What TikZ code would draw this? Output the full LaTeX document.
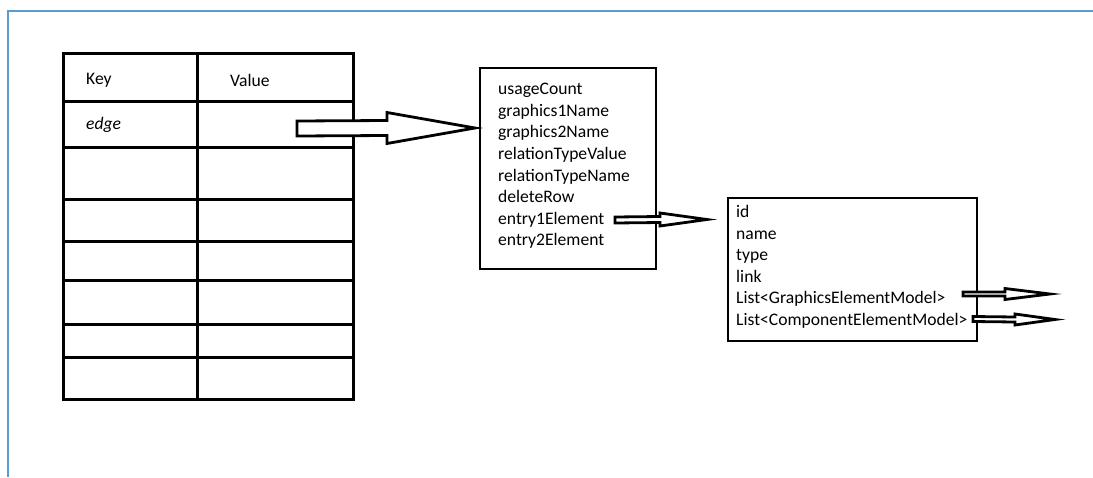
\documentclass[tikz,border=0pt]{standalone}
\usepackage{fontspec}
\setmainfont{Carlito}
\usetikzlibrary{calc}
\definecolor{frameblue}{RGB}{91,155,213}
\tikzset{
  cell/.style={draw, line width=3pt, minimum width=#1, inner sep=0pt, outer sep=0pt, anchor=north west},
  boxed/.style={draw, line width=2.8pt, inner sep=0pt, outer sep=0pt, anchor=north west},
  lbl/.style={anchor=west, inner sep=0pt, font=\fontsize{17.6}{21.5}\selectfont},
  fields/.style={anchor=north west, inner sep=0pt, align=left, font=\fontsize{17.6}{21.6}\selectfont},
  arr/.style={draw, line width=2.8pt, fill=white, line join=miter}
}
% block arrow: start, tip, shaft half height, head half height, head length
\newcommand\blockarr[5]{%
  \draw[arr] ($(#1)+(0,-#3)$) -- ($(#2)+(-#5,-#3)$) -- ($(#2)+(-#5,-#4)$) -- (#2)
    -- ($(#2)+(-#5,#4)$) -- ($(#2)+(-#5,#3)$) -- ($(#1)+(0,#3)$) -- cycle;}
\begin{document}
\begin{tikzpicture}[x=1pt,y=-1pt]
\useasboundingbox (0,0) rectangle (1093,477);
% page frame
\draw[frameblue, line width=2pt] (7,11) -- (1093,11);
\draw[frameblue, line width=1.2pt] (8,11) -- (8,477);

% key/value table
\foreach \top/\h [count=\i] in {53/48,101/46,147/52,199/42,241/39,280/44,324/33,357/42}{
  \node[cell=134pt, minimum height=\h pt] (k\i) at (63,\top) {};
  \node[cell=156pt, minimum height=\h pt] (v\i) at (197,\top) {};
}
\node[lbl] (keyhead) at (86,80) {Key};
\node[lbl] (valhead) at (230,80) {Value};
\node[lbl] (edgekey) at (86,125) {\itshape edge};

% edge model
\node[boxed, minimum width=176pt, minimum height=201pt] (edgebox) at (480,68) {};
\node[fields] (edgefields) at (498,83) {usageCount\\graphics1Name\\graphics2Name\\relationTypeValue\\relationTypeName\\deleteRow\\entry1Element\\entry2Element};

% element model
\node[boxed, minimum width=249pt, minimum height=143pt] (elembox) at (728,198) {};
\node[fields] (elemfields) at (736,205) {id\\name\\type\\link\\List<GraphicsElementModel>\\List<ComponentElementModel>};

% references
\coordinate (a1s) at (297,128.5);
\coordinate (a1t) at ($(edgebox.west)+(-5,-40.5)$);
\coordinate (a2s) at (615,220);
\coordinate (a2t) at (707,219.5);
\coordinate (a3s) at (963,294);
\coordinate (a3t) at (1050,294);
\coordinate (a4s) at (973,319);
\coordinate (a4t) at (1055,319.5);
\blockarr{a1s}{a1t}{7.5}{15.5}{88}
\blockarr{a2s}{a2t}{3}{6.5}{47}
\blockarr{a3s}{a3t}{2}{5.5}{45}
\blockarr{a4s}{a4t}{2.5}{5.5}{40}
\end{tikzpicture}
\end{document}
